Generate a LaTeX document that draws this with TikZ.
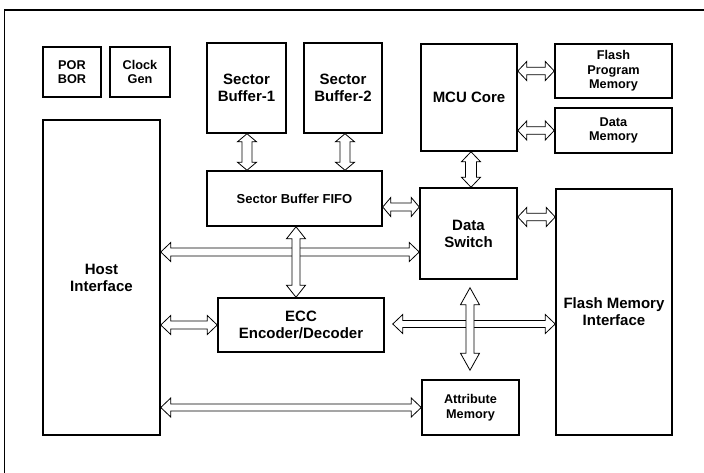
\documentclass[tikz,border=0pt]{standalone}
\usepackage{fontspec}
\setmainfont{Liberation Sans}
\usetikzlibrary{calc}
\tikzset{
  ahl/.store in=\ahl, ahw/.store in=\ahw, asw/.store in=\asw,
  ahl=9pt, ahw=9.5pt, asw=4pt,
  blk/.style={draw, line width=1.5pt, inner sep=0pt, align=center, font=\bfseries\fontsize{15}{17}\selectfont},
  sblk/.style={blk, font=\bfseries\fontsize{12.7}{14.5}\selectfont},
  frameline/.style={line width=1.2pt},
  barrow/.style={draw, fill=white, line width=0.8pt, line join=miter,
    to path={let \p1=(\tikztostart), \p2=(\tikztotarget), \n1={atan2(\y2-\y1,\x2-\x1)} in
      (\p1)
      -- ($(\p1)+(\n1:\ahl)+(\n1+90:\ahw)$)
      -- ($(\p1)+(\n1:\ahl)+(\n1+90:\asw)$)
      -- ($(\p2)+(\n1+180:\ahl)+(\n1+90:\asw)$)
      -- ($(\p2)+(\n1+180:\ahl)+(\n1+90:\ahw)$)
      -- (\p2)
      -- ($(\p2)+(\n1+180:\ahl)+(\n1-90:\ahw)$)
      -- ($(\p2)+(\n1+180:\ahl)+(\n1-90:\asw)$)
      -- ($(\p1)+(\n1:\ahl)+(\n1-90:\asw)$)
      -- ($(\p1)+(\n1:\ahl)+(\n1-90:\ahw)$)
      -- cycle}}
}
\begin{document}
\begin{tikzpicture}[x=1pt,y=-1pt]
\useasboundingbox (0,0) rectangle (704,473);
% frame (top and left edges)
\coordinate (ftl) at (4.5,10);
\coordinate (ftr) at (704,10);
\coordinate (fbl) at (4.5,473);
\draw[frameline] (fbl) -- (ftl) -- (ftr);

% blocks
\node[sblk, minimum width=58, minimum height=50] (por) at (72,72) {POR\\BOR};
\node[sblk, minimum width=60, minimum height=50] (clk) at (140,72) {Clock\\Gen};
\node[blk, minimum width=117, minimum height=315] (host) at (101.5,277.5) {Host\\Interface};
\node[blk, minimum width=79, minimum height=90] (sb1) at (246.5,88) {Sector\\Buffer-1};
\node[blk, minimum width=78, minimum height=90] (sb2) at (343,88) {Sector\\Buffer-2};
\node[blk, font=\bfseries\fontsize{13}{15}\selectfont, minimum width=175, minimum height=55] (fifo) at (294.5,198.5) {Sector Buffer FIFO};
\node[blk, minimum width=96, minimum height=107] (mcu) at (469,97.5) {MCU Core};
\node[sblk, minimum width=117, minimum height=54] (fpm) at (613.5,71) {Flash\\Program\\Memory};
\node[sblk, minimum width=117, minimum height=45] (dmem) at (613.5,130.5) {Data\\Memory};
\node[blk, minimum width=97, minimum height=91] (ds) at (468.5,233.5) {Data\\Switch};
\node[blk, minimum width=116, minimum height=246] (fmi) at (614,312) {Flash Memory\\Interface};
\node[sblk, minimum width=97, minimum height=55] (attr) at (470.5,407.5) {Attribute\\Memory};
\node[blk, minimum width=166, minimum height=54] (ecc) at (301,325) {ECC\\Encoder/Decoder};

% connector end points
\coordinate (a1) at ($(sb1.south)+(0.5,0)$);
\coordinate (a2) at ($(sb2.south)+(2,0)$);
\coordinate (a3) at ($(fifo.east)+(0,8.5)$);
\coordinate (a4) at ($(mcu.south)+(2,0)$);
\coordinate (a7) at ($(ds.east)+(0,-16.5)$);
\coordinate (a8) at ($(ds.west)+(0,18.5)$);
\coordinate (a9) at ($(fifo.south)+(1.5,0)$);
\coordinate (a11) at ($(ecc.east)+(8,-1)$);
\coordinate (a12s) at ($(ds.south)+(1.5,8)$);
\coordinate (a12t) at ($(attr.north)+(-0.5,-9)$);

% connectors
\draw[barrow, asw=5pt, ahl=8pt] (a1) to (a1 |- fifo.north);
\draw[barrow, asw=5pt, ahl=8pt] (a2) to (a2 |- fifo.north);
\draw[barrow, ahl=8pt] (a3) to (a3 -| ds.west);
\draw[barrow, asw=5.5pt, ahl=10pt] (a4) to (a4 |- ds.north);
\draw[barrow, asw=3.75pt, ahl=9pt] (mcu.east |- fpm.west) to (fpm.west);
\draw[barrow, asw=3.75pt, ahl=9pt] (mcu.east |- dmem.west) to (dmem.west);
\draw[barrow, asw=3.75pt, ahl=9pt] (a7) to (a7 -| fmi.west);
\draw[barrow, ahl=10pt] (host.east |- a8) to (a8);
\draw[barrow, ahl=12pt] (a9) to (a9 |- ecc.north);
\draw[barrow, ahl=10pt] (host.east |- ecc.west) to (ecc.west);
\draw[barrow, asw=3.5pt, ahl=10pt] (a11) to (a11 -| fmi.west);
\draw[barrow, ahl=17pt] (a12s) to (a12t);
\draw[barrow, asw=3.5pt, ahl=10pt] (host.east |- attr.west) to (attr.west);
\end{tikzpicture}
\end{document}
